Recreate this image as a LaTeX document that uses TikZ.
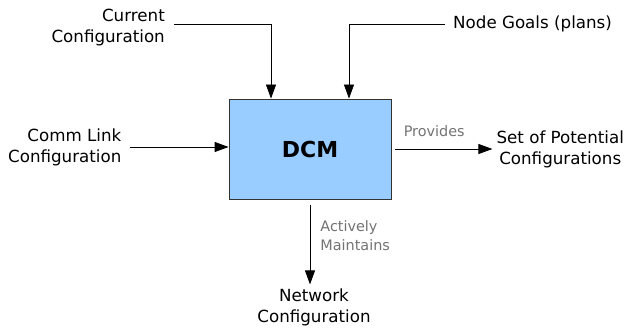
\documentclass[tikz,border=0pt]{standalone}
\usepackage{fontspec}
\setmainfont{DejaVu Sans}
\usetikzlibrary{arrows.meta,positioning}
\definecolor{dcmblue}{HTML}{99CCFF}
\begin{document}
\begin{tikzpicture}[
      x=1pt,y=1pt,
      font=\fontsize{16.7}{21}\selectfont,
      block/.style={draw=black!80,fill=dcmblue,line width=0.8pt,
                    minimum width=162pt,minimum height=100pt,
                    font=\fontsize{22}{26}\selectfont\bfseries},
      term/.style={inner sep=0pt},
      tag/.style={font=\fontsize{14.4}{19}\selectfont,text=black!55,
                  inner sep=0pt,align=left},
      arr/.style={-{Triangle[length=14pt,width=10pt]},line width=0.8pt}]
    \useasboundingbox (0,0) rectangle (627,-329);
    \node[block] (dcm) at (310,-149) {DCM};
    \node[term,align=right,anchor=east] (cur) at (165,-28) {Current\\Configuration};
    \node[term,anchor=west] (goals) at (453,-24) {Node Goals (plans)};
    \node[term,align=right,left=107pt of dcm,yshift=2pt] (comm) {Comm Link\\Configuration};
    \node[term,align=center,right=105pt of dcm] (pset) {Set of Potential\\Configurations};
    \node[term,align=center,below=89pt of dcm,xshift=4pt] (net) {Network\\Configuration};
    % inputs
    \draw[arr] ([xshift=9pt,yshift=3.5pt]cur.east) -| ([xshift=-39pt]dcm.north);
    \draw[arr] ([xshift=-8pt]goals.west) -| ([xshift=39pt]dcm.north);
    \draw[arr] ([xshift=8pt]comm.east) -- (dcm.west |- comm.east);
    % outputs
    \draw[arr] ([xshift=4pt]dcm.east) -- node[tag,pos=0.4,above=12pt] {Provides}
      ([xshift=-4pt]pset.west);
    \draw[arr] ([yshift=-6pt]dcm.south) -- node[tag,pos=0.38,right=10pt] {Actively\\Maintains}
      ([xshift=-4pt,yshift=4pt]net.north);
\end{tikzpicture}
\end{document}
